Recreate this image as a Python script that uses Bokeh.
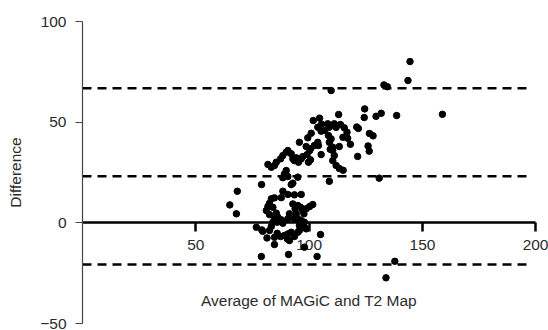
from bokeh.plotting import figure
from bokeh.models import Range1d, FixedTicker
from bokeh.embed import file_html
from bokeh.resources import INLINE

# ---- data ----
avg = [144.5, 143.6, 133.0, 134.5, 158.8, 138.6, 131.8, 129.5, 124.5, 124.3,
       121.7, 121.0, 113.0, 109.7, 126.6, 128.2, 126.0, 126.5, 121.4, 118.2,
       116.7, 117.0, 115.5, 113.8, 111.9, 114.9, 113.3, 111.1, 110.4, 110.4,
       111.9, 113.3, 115.0, 130.9, 108.9, 137.8, 133.9,
       108.2, 108.9, 106.9, 108.5, 109.7, 108.9, 105.5, 104.6, 101.8, 111.1,
       103.8, 105.3, 100.9, 99.4, 103.8, 102.3, 100.6, 105.3, 109.3, 95.7,
       98.7, 100.2, 99.1, 100.6, 99.7, 97.2, 96.5, 94.3, 93.5, 95.3,
       90.6, 89.9, 88.4, 87.4, 92.1, 92.8, 85.5, 84.7, 81.8, 83.3,
       89.9, 89.1, 90.6, 88.4, 95.0, 92.8, 92.1, 79.0, 68.3, 88.4,
       90.6, 93.5, 96.5, 84.7, 83.3, 87.7,
       65.0, 67.9, 82.5, 81.8, 84.0, 81.1, 82.5, 85.5, 86.2, 84.7,
       86.9, 84.0, 85.9, 87.7, 88.4, 92.8, 93.8, 95.0, 96.2, 94.3,
       93.5, 95.0, 97.2, 97.7, 98.7, 100.2, 101.6, 91.3, 90.6, 96.5,
       97.9, 97.2, 95.7, 97.9, 98.7, 76.7, 79.1, 79.5, 83.3, 82.5,
       85.9, 87.4, 84.7, 81.4, 89.1, 90.6, 92.1, 93.5, 91.3, 90.4,
       95.0, 95.7, 84.7, 97.9, 105.0, 103.5, 90.9, 78.9, 104.1, 110.4]
diff = [80.1, 70.7, 68.5, 67.6, 53.9, 53.3, 54.4, 52.9, 56.6, 52.3,
        46.9, 47.6, 53.8, 65.7, 44.4, 43.2, 38.2, 35.6, 33.0, 39.0,
        45.0, 42.0, 47.2, 48.8, 47.4, 42.5, 37.9, 33.4, 37.6, 30.9,
        28.5, 27.0, 26.1, 22.2, 20.6, -19.1, -27.3,
        49.2, 47.5, 45.9, 43.4, 41.7, 40.0, 49.0, 52.0, 50.8, 49.2,
        47.5, 45.5, 44.5, 42.2, 40.0, 38.4, 36.8, 33.9, 36.5, 40.0,
        37.9, 35.9, 33.9, 31.3, 30.1, 32.9, 31.8, 32.3, 30.9, 30.1,
        35.9, 35.1, 33.4, 31.8, 34.3, 31.8, 30.1, 28.5, 29.0, 27.6,
        26.0, 24.3, 23.0, 22.4, 22.7, 19.7, 19.0, 19.0, 15.7, 15.7,
        14.1, 13.9, 14.1, 12.4, 11.9, 12.5,
        8.9, 4.5, 9.7, 8.1, 7.7, 6.1, 4.1, 4.8, 2.8, 2.0,
        1.5, 0.3, 0.3, 1.5, -0.2, 9.4, 7.0, 8.6, 7.7, 4.5,
        2.0, 2.0, 6.1, 4.5, 7.0, 8.1, 9.1, 4.5, 2.0, 1.1,
        0.3, -0.8, -1.3, -2.2, -3.0, -2.2, -3.5, -4.2, -1.8, -3.8,
        -5.2, -6.8, -7.2, -7.5, -6.3, -5.5, -4.7, -6.8, -8.8, -8.0,
        -4.7, -3.8, -10.8, -12.1, -5.8, -16.7, -15.7, -16.7, 38.4, 35.9]

bias_lines = [66.9, 23.1, -20.7]   # upper LoA, mean difference, lower LoA
line_x_end = 197

x_ticks = [50, 100, 150, 200]
x_axis_bounds = (0, 200)
y_ticks = [-50, 0, 50, 100]
y_tick_labels = ["\u221250", "0", "50", "100"]

x_title = "Average of MAGiC and T2 Map"
y_title = "Difference"

FONT = "Liberation Sans"
TXT = "#2b2b2b"

p = figure(width=548, height=330, x_range=Range1d(0, 205.6), y_range=Range1d(-50, 100),
           output_backend="svg", toolbar_location=None,
           min_border_left=82, min_border_top=21, min_border_right=0, min_border_bottom=7)
p.outline_line_color = None
p.grid.visible = False

# limits of agreement & mean
p.segment(x0=[0] * len(bias_lines), x1=[line_x_end] * len(bias_lines),
          y0=bias_lines, y1=bias_lines, line_color="black", line_width=2.5,
          line_dash="9 6")

# points
p.scatter(avg, diff, size=6.5, color="black")

# x axis at y = 0
xa = p.xaxis[0]
xa.fixed_location = 0
xa.bounds = x_axis_bounds
xa.level = "underlay"
xa.ticker = FixedTicker(ticks=x_ticks)
xa.axis_line_color = "black"
xa.axis_line_width = 2.5
xa.major_tick_line_color = "black"
xa.major_tick_line_width = 2.5
xa.major_tick_in = 0
xa.major_tick_out = 9
xa.minor_tick_line_color = None
xa.major_label_text_font = FONT
xa.major_label_text_font_size = "15.5px"
xa.major_label_text_color = TXT
xa.major_label_standoff = 8
xa.axis_label = x_title
xa.axis_label_text_font = FONT
xa.axis_label_text_font_size = "15.5px"
xa.axis_label_text_font_style = "normal"
xa.axis_label_text_color = TXT
xa.axis_label_standoff = 39

ya = p.yaxis[0]
ya.ticker = FixedTicker(ticks=y_ticks)
ya.major_label_overrides = {t: s for t, s in zip(y_ticks, y_tick_labels)}
ya.axis_line_color = "#444444"
ya.axis_line_width = 1.2
ya.major_tick_line_color = "#444444"
ya.major_tick_line_width = 1.2
ya.major_tick_in = 0
ya.major_tick_out = 7
ya.minor_tick_line_color = None
ya.major_label_text_font = FONT
ya.major_label_text_font_size = "15.5px"
ya.major_label_text_color = TXT
ya.major_label_standoff = 9
ya.axis_label = y_title
ya.axis_label_text_font = FONT
ya.axis_label_text_font_size = "15.5px"
ya.axis_label_text_font_style = "normal"
ya.axis_label_text_color = TXT
ya.axis_label_standoff = 13

open("out.html", "w").write(file_html(p, INLINE))
